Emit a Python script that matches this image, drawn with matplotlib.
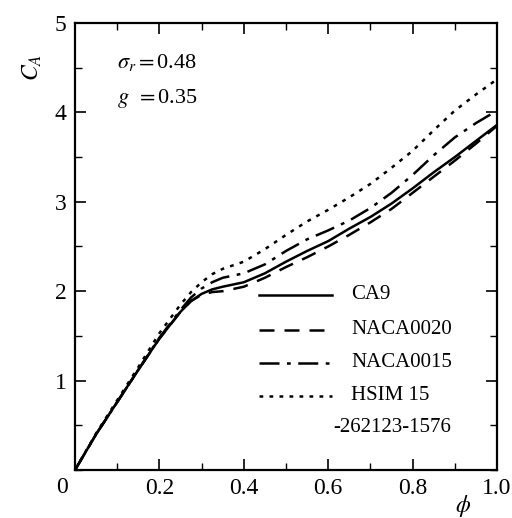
import matplotlib
matplotlib.use('Agg')
import matplotlib.pyplot as plt
from matplotlib.ticker import MultipleLocator
import numpy as np

# flow coefficient phi and pressure coefficient C_A
phi = [0.0, 0.05, 0.10, 0.15, 0.20, 0.25, 0.275, 0.30, 0.325, 0.35, 0.40, 0.45, 0.50,
       0.55, 0.60, 0.65, 0.70, 0.75, 0.80, 0.85, 0.90, 0.95, 1.00]
ca_ca9 = [0.0, 0.40, 0.76, 1.12, 1.47, 1.77, 1.89, 1.97, 2.02, 2.05, 2.10, 2.20, 2.33,
          2.45, 2.56, 2.70, 2.83, 2.98, 3.15, 3.33, 3.50, 3.68, 3.86]
ca_naca0020 = [0.0, 0.40, 0.76, 1.12, 1.47, 1.77, 1.89, 1.96, 1.99, 2.00, 2.05, 2.15, 2.27,
               2.38, 2.50, 2.63, 2.77, 2.92, 3.10, 3.28, 3.46, 3.65, 3.85]
ca_naca0015 = [0.0, 0.40, 0.76, 1.12, 1.48, 1.79, 1.93, 2.03, 2.10, 2.15, 2.20, 2.30, 2.45,
               2.58, 2.68, 2.79, 2.93, 3.10, 3.30, 3.52, 3.72, 3.88, 4.02]
ca_hsim = [0.0, 0.41, 0.78, 1.15, 1.53, 1.85, 1.99, 2.10, 2.19, 2.25, 2.33, 2.47, 2.63,
           2.78, 2.91, 3.05, 3.20, 3.38, 3.57, 3.80, 4.02, 4.20, 4.37]

names = ['CA9', 'NACA0020', 'NACA0015', 'HSIM 15']
styles = ['-', (0, (6, 4)), (0, (8, 3, 1.5, 3)), (0, (1.5, 2.5))]

plt.rcParams['font.family'] = ['Liberation Serif', 'DejaVu Serif']
plt.rcParams['mathtext.fontset'] = 'stix'

fig = plt.figure(figsize=(5.12, 5.18), dpi=100)
ax = fig.add_axes([0.1465, 0.0927, 0.8242, 0.8629])

for ys, name, ls in zip([ca_ca9, ca_naca0020, ca_naca0015, ca_hsim], names, styles):
    ax.plot(phi, ys, color='black', linestyle=ls, linewidth=1.8)

ax.set_xlim(0, 1.0)
ax.set_ylim(0, 5)
ax.xaxis.set_minor_locator(MultipleLocator(0.1))
ax.yaxis.set_minor_locator(MultipleLocator(0.5))
ax.set_xticks([0, 0.2, 0.4, 0.6, 0.8, 1.0])
ax.set_xticklabels(['', '0.2', '0.4', '0.6', '0.8', '1.0'])
ax.set_yticks([1, 2, 3, 4, 5])
ax.tick_params(which='both', direction='in', top=True, right=True, labelsize=17, pad=6)
ax.tick_params(which='major', length=8, width=1.2)
ax.tick_params(which='minor', length=5, width=1.0)
for s in ax.spines.values():
    s.set_linewidth(1.6)

# "0" at the corner, below the x axis and left of the y axis
fig.text(0.122, 0.058, '0', fontsize=17, ha='center', va='center')

ax.text(-0.1, 0.9, r'$C_A$', transform=ax.transAxes, fontsize=17,
        rotation=90, ha='center', va='center')
ax.text(0.92, -0.08, r'$\phi$', transform=ax.transAxes, fontsize=17,
        ha='center', va='center')

ax.text(0.1, 4.56, r'$\sigma_r = $0.48', fontsize=16, va='center')
ax.text(0.1, 4.16, r'$g\ \,= $0.35', fontsize=16, va='center')

# legend drawn by hand to match the layout
leg_y = [1.96, 1.57, 1.20, 0.83]
for yy, name, ls in zip(leg_y, names, styles):
    ax.plot([0.435, 0.61], [yy, yy], color='black', linestyle=ls, linewidth=1.8)
    ax.text(0.655, yy, name, fontsize=15, va='center')
ax.text(0.612, 0.47, '-262123-1576', fontsize=15, va='center')

fig.savefig('out.png', dpi=100)
